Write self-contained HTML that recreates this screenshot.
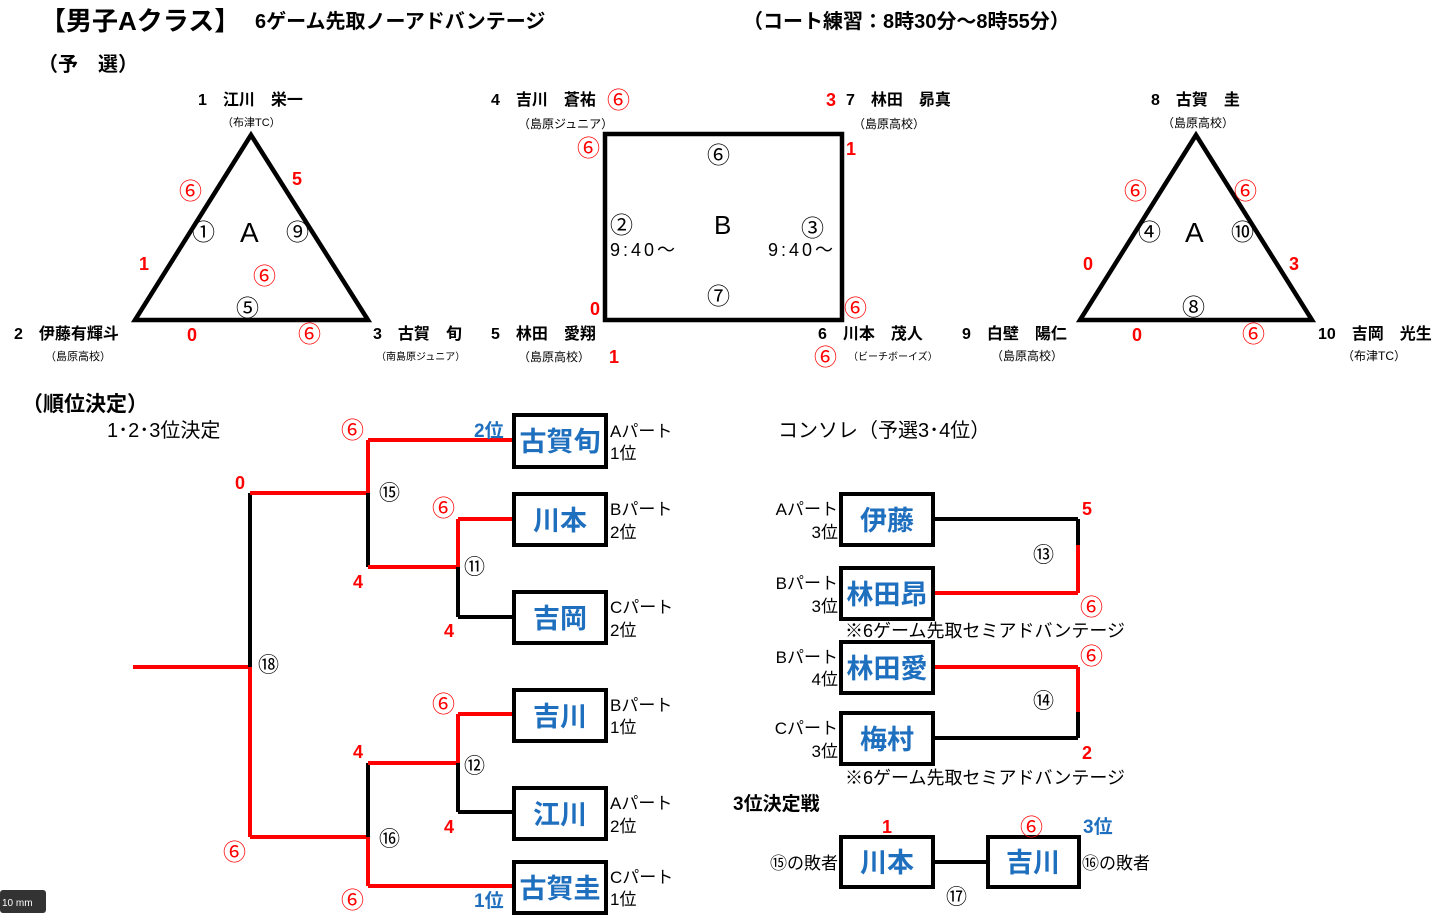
<!DOCTYPE html>
<html><head><meta charset="utf-8"><style>
body{margin:0;background:#fff;width:1447px;height:919px;overflow:hidden}
svg{display:block}
text{font-family:"Liberation Sans","Noto Sans CJK JP",sans-serif}
.r{fill:#f00}
.bl{fill:#1f6fbf;font-weight:bold}
</style></head><body>
<svg width="1447" height="919" viewBox="0 0 1447 919" xmlns="http://www.w3.org/2000/svg">
<text x="40" y="30" font-size="26" font-weight="bold">【男子Aクラス】</text>
<text x="255" y="28" font-size="20" font-weight="bold">6ゲーム先取ノーアドバンテージ</text>
<text x="743" y="28" font-size="20" font-weight="bold">（コート練習：8時30分～8時55分）</text>
<text x="38" y="71" font-size="20" font-weight="bold">（予　選）</text>
<text x="22" y="411" font-size="21" font-weight="bold">（順位決定）</text>
<text x="107" y="437" font-size="20">1･2･3位決定</text>
<text x="778" y="437" font-size="20">コンソレ（予選3･4位）</text>

<!-- Triangle A left -->
<polygon points="251,135 135,320 368,320" fill="none" stroke="#000" stroke-width="4.5"/>
<text x="198" y="105" font-size="16" font-weight="bold">1　江川　栄一</text>
<text x="222" y="126" font-size="11">（布津TC）</text>
<text x="14" y="339" font-size="16" font-weight="bold">2　伊藤有輝斗</text>
<text x="45" y="360" font-size="11">（島原高校）</text>
<text x="373" y="339" font-size="16" font-weight="bold">3　古賀　旬</text>
<text x="376" y="360" font-size="10">（南島原ジュニア）</text>
<text x="240" y="242" font-size="28">A</text>
<g font-size="23"><text x="192" y="240">①</text><text x="286" y="240">⑨</text><text x="236" y="316">⑤</text></g>
<g class="r" font-size="23"><text x="179" y="199">⑥</text><text x="253" y="284">⑥</text><text x="298" y="342">⑥</text></g>
<g class="r" font-size="18" font-weight="bold"><text x="292" y="185">5</text><text x="139" y="270">1</text><text x="187" y="341">0</text></g>

<!-- Rect B -->
<rect x="605" y="134" width="237" height="186" fill="none" stroke="#000" stroke-width="4.5"/>
<text x="491" y="105" font-size="16" font-weight="bold">4　吉川　蒼祐</text>
<text x="518" y="128" font-size="12">（島原ジュニア）</text>
<text x="607" y="108" font-size="23" class="r">⑥</text>
<text x="826" y="106" font-size="18" class="r" font-weight="bold">3</text>
<text x="846" y="105" font-size="16" font-weight="bold">7　林田　昴真</text>
<text x="853" y="128" font-size="12">（島原高校）</text>
<text x="577" y="156" font-size="23" class="r">⑥</text>
<text x="846" y="155" font-size="18" class="r" font-weight="bold">1</text>
<text x="590" y="315" font-size="18" class="r" font-weight="bold">0</text>
<text x="844" y="316" font-size="23" class="r">⑥</text>
<g font-size="23"><text x="707" y="163">⑥</text><text x="707" y="304">⑦</text><text x="610" y="233">②</text><text x="801" y="236">③</text></g>
<text x="714" y="234" font-size="26">B</text>
<text x="610" y="256" font-size="18" letter-spacing="3">9:40～</text>
<text x="768" y="256" font-size="18" letter-spacing="3">9:40～</text>
<text x="491" y="339" font-size="16" font-weight="bold">5　林田　愛翔</text>
<text x="518" y="361" font-size="12">（島原高校）</text>
<text x="609" y="363" font-size="18" class="r" font-weight="bold">1</text>
<text x="818" y="339" font-size="16" font-weight="bold">6　川本　茂人</text>
<text x="814" y="365" font-size="23" class="r">⑥</text>
<text x="848" y="360" font-size="10">（ビーチボーイズ）</text>

<!-- Triangle right -->
<polygon points="1196,135 1080,320 1312,320" fill="none" stroke="#000" stroke-width="4.5"/>
<text x="1151" y="105" font-size="16" font-weight="bold">8　古賀　圭</text>
<text x="1162" y="127" font-size="12">（島原高校）</text>
<text x="962" y="339" font-size="16" font-weight="bold">9　白壁　陽仁</text>
<text x="991" y="360" font-size="12">（島原高校）</text>
<text x="1318" y="339" font-size="16" font-weight="bold">10　吉岡　光生</text>
<text x="1342" y="360" font-size="12">（布津TC）</text>
<text x="1185" y="242" font-size="28">A</text>
<g font-size="23"><text x="1138" y="240">④</text><text x="1231" y="240">⑩</text><text x="1182" y="315">⑧</text></g>
<g class="r" font-size="23"><text x="1124" y="199">⑥</text><text x="1234" y="199">⑥</text><text x="1242" y="342">⑥</text></g>
<g class="r" font-size="18" font-weight="bold"><text x="1289" y="270">3</text><text x="1083" y="270">0</text><text x="1132" y="341">0</text></g>

<!-- Main bracket -->
<g stroke-width="4" fill="none">
<line x1="133" y1="667" x2="250" y2="667" stroke="#f00"/>
<line x1="250" y1="493" x2="250" y2="667" stroke="#000"/>
<line x1="250" y1="667" x2="250" y2="837" stroke="#f00"/>
<line x1="250" y1="493" x2="368" y2="493" stroke="#f00"/>
<line x1="250" y1="837" x2="368" y2="837" stroke="#f00"/>
<line x1="368" y1="440" x2="368" y2="493" stroke="#f00"/>
<line x1="368" y1="493" x2="368" y2="567" stroke="#000"/>
<line x1="368" y1="440" x2="513" y2="440" stroke="#f00"/>
<line x1="368" y1="567" x2="458" y2="567" stroke="#f00"/>
<line x1="458" y1="519" x2="458" y2="567" stroke="#f00"/>
<line x1="458" y1="567" x2="458" y2="617" stroke="#000"/>
<line x1="458" y1="519" x2="513" y2="519" stroke="#f00"/>
<line x1="458" y1="617" x2="513" y2="617" stroke="#000"/>
<line x1="368" y1="763" x2="368" y2="837" stroke="#000"/>
<line x1="368" y1="837" x2="368" y2="886" stroke="#f00"/>
<line x1="368" y1="763" x2="458" y2="763" stroke="#f00"/>
<line x1="368" y1="886" x2="513" y2="886" stroke="#f00"/>
<line x1="458" y1="714" x2="458" y2="763" stroke="#f00"/>
<line x1="458" y1="763" x2="458" y2="812" stroke="#000"/>
<line x1="458" y1="714" x2="513" y2="714" stroke="#f00"/>
<line x1="458" y1="812" x2="513" y2="812" stroke="#000"/>
</g>
<g fill="#fff" stroke="#000" stroke-width="4">
<rect x="514" y="415" width="92" height="52"/>
<rect x="514" y="494" width="92" height="51"/>
<rect x="514" y="592" width="92" height="51"/>
<rect x="514" y="690" width="92" height="51"/>
<rect x="514" y="788" width="92" height="51"/>
<rect x="514" y="862" width="92" height="51"/>
</g>
<g font-size="27" class="bl" text-anchor="middle">
<text x="560" y="451">古賀旬</text>
<text x="560" y="530">川本</text>
<text x="560" y="628">吉岡</text>
<text x="560" y="726">吉川</text>
<text x="560" y="824">江川</text>
<text x="560" y="898">古賀圭</text>
</g>
<g font-size="17">
<text x="610" y="437">Aパート</text><text x="610" y="459">1位</text>
<text x="610" y="515">Bパート</text><text x="610" y="538">2位</text>
<text x="610" y="613">Cパート</text><text x="610" y="636">2位</text>
<text x="610" y="711">Bパート</text><text x="610" y="733">1位</text>
<text x="610" y="809">Aパート</text><text x="610" y="832">2位</text>
<text x="610" y="883">Cパート</text><text x="610" y="905">1位</text>
</g>
<g font-size="23" class="r"><text x="341" y="438">⑥</text><text x="432" y="516">⑥</text><text x="432" y="712">⑥</text><text x="223" y="860">⑥</text><text x="341" y="908">⑥</text></g>
<g font-size="18" class="r" font-weight="bold"><text x="235" y="489">0</text><text x="353" y="588">4</text><text x="444" y="637">4</text><text x="353" y="758">4</text><text x="444" y="833">4</text></g>
<g font-size="21"><text x="379" y="500">⑮</text><text x="464" y="574">⑪</text><text x="258" y="672">⑱</text><text x="464" y="773">⑫</text><text x="379" y="846">⑯</text></g>
<text x="474" y="437" font-size="19" class="bl">2位</text>
<text x="474" y="907" font-size="19" class="bl">1位</text>

<!-- Consolation -->
<g stroke-width="4" fill="none">
<line x1="933" y1="519" x2="1078" y2="519" stroke="#000"/>
<line x1="1078" y1="519" x2="1078" y2="545" stroke="#000"/>
<line x1="1078" y1="545" x2="1078" y2="593" stroke="#f00"/>
<line x1="933" y1="593" x2="1078" y2="593" stroke="#f00"/>
<line x1="933" y1="667" x2="1078" y2="667" stroke="#f00"/>
<line x1="1078" y1="667" x2="1078" y2="712" stroke="#f00"/>
<line x1="1078" y1="712" x2="1078" y2="738" stroke="#000"/>
<line x1="933" y1="738" x2="1078" y2="738" stroke="#000"/>
<line x1="933" y1="862" x2="987" y2="862" stroke="#000"/>
</g>
<g fill="#fff" stroke="#000" stroke-width="4">
<rect x="841" y="494" width="92" height="51"/>
<rect x="841" y="568" width="92" height="51"/>
<rect x="841" y="642" width="92" height="51"/>
<rect x="841" y="713" width="92" height="51"/>
<rect x="841" y="837" width="92" height="50"/>
<rect x="988" y="837" width="91" height="50"/>
</g>
<g font-size="27" class="bl" text-anchor="middle">
<text x="887" y="530">伊藤</text>
<text x="887" y="604">林田昂</text>
<text x="887" y="678">林田愛</text>
<text x="887" y="749">梅村</text>
<text x="887" y="872">川本</text>
<text x="1033" y="872">吉川</text>
</g>
<g font-size="17" text-anchor="end">
<text x="838" y="515">Aパート</text><text x="838" y="538">3位</text>
<text x="838" y="589">Bパート</text><text x="838" y="612">3位</text>
<text x="838" y="663">Bパート</text><text x="838" y="685">4位</text>
<text x="838" y="734">Cパート</text><text x="838" y="757">3位</text>
<text x="838" y="869">⑮の敗者</text>
</g>
<text x="1082" y="869" font-size="17">⑯の敗者</text>
<text x="845" y="637" font-size="18">※6ゲーム先取セミアドバンテージ</text>
<text x="845" y="784" font-size="18">※6ゲーム先取セミアドバンテージ</text>
<g font-size="18" class="r" font-weight="bold"><text x="1082" y="515">5</text><text x="1082" y="759">2</text><text x="882" y="833">1</text></g>
<g font-size="23" class="r"><text x="1080" y="615">⑥</text><text x="1080" y="664">⑥</text><text x="1020" y="835">⑥</text></g>
<g font-size="21"><text x="1033" y="562">⑬</text><text x="1033" y="708">⑭</text><text x="946" y="904">⑰</text></g>
<text x="1083" y="833" font-size="19" class="bl">3位</text>
<text x="733" y="810" font-size="19" font-weight="bold">3位決定戦</text>

<rect x="0" y="890" width="46" height="23" rx="3" fill="#333"/>
<text x="2" y="906" font-size="10" fill="#fff">10 mm</text>
</svg>
</body></html>
